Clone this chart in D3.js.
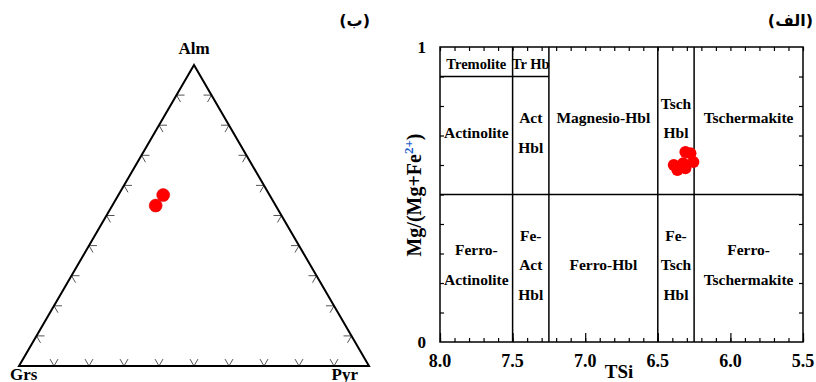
<!DOCTYPE html>
<html>
<head>
<meta charset="utf-8">
<script src="https://cdn.jsdelivr.net/npm/d3@7"></script>
<style>
  body { margin: 0; background: #fff; }
</style>
</head>
<body>
<div id="chart"></div>
<script>
// ternary garnet data (fractions)
var garnetAlm = [0.568, 0.533];
var garnetPyr = [0.128, 0.124];
var garnetGrs = [0.304, 0.343];
var cornerNames = ["Alm", "Grs", "Pyr"];

// amphibole data
var amphTSi = [6.39, 6.365, 6.31, 6.275, 6.325, 6.31, 6.255];
var amphMg  = [0.600, 0.583, 0.644, 0.640, 0.606, 0.589, 0.610];

var tsiTicks = [8.0, 7.5, 7.0, 6.5, 6.0, 5.5];
var fieldXLines = [7.5, 7.25, 6.5, 6.25];
// [text lines, TSi centre, Mg centre]
var fieldLabels = [
	[["Tremolite"], 7.75, 0.945],
	[["Tr Hb"], 7.375, 0.945],
	[["Actinolite"], 7.75, 0.71],
	[["Act", "Hbl"], 7.375, 0.71],
	[["Magnesio-Hbl"], 6.875, 0.76],
	[["Tsch", "Hbl"], 6.375, 0.76],
	[["Tschermakite"], 5.875, 0.76],
	[["Ferro-", "Actinolite"], 7.75, 0.262],
	[["Fe-", "Act", "Hbl"], 7.375, 0.262],
	[["Ferro-Hbl"], 6.875, 0.262],
	[["Fe-", "Tsch", "Hbl"], 6.375, 0.262],
	[["Ferro-", "Tschermakite"], 5.875, 0.262]
];

var serif = "'Liberation Serif', 'DejaVu Serif', serif";

var svg = d3.select("#chart").append("svg")
	.attr("width", 816)
	.attr("height", 382)
	.attr("font-family", serif)
	.attr("font-weight", "bold");

//---------- ternary (left) ----------
var tri = {left: 19, right: 369, top: 65, bottom: 366};
var triX = d3.scaleLinear().domain([0, 1]).range([tri.left, tri.right]);
var triY = d3.scaleLinear().domain([0, 1]).range([tri.bottom, tri.top]);

function ternXY(alm, pyr) {
	return [triX(pyr + alm / 2), triY(alm)];
}

var gT = svg.append("g");
var A = ternXY(1, 0), G = ternXY(0, 0), P = ternXY(0, 1);

// tick marks: small V, arms parallel to the other two sides
var armLen = 8;
var s60 = Math.sin(Math.PI / 3), c60 = 0.5;
var tickPath = "";
d3.range(1, 10).forEach(function(i) {
	var t = i / 10;
	// bottom edge
	var b = ternXY(0, t);
	tickPath += "M" + (b[0] - armLen * c60) + "," + (b[1] - armLen * s60) + "L" + b[0] + "," + b[1] +
		"L" + (b[0] + armLen * c60) + "," + (b[1] - armLen * s60);
	// left edge
	var l = ternXY(t, 0);
	tickPath += "M" + (l[0] + armLen) + "," + l[1] + "L" + l[0] + "," + l[1] +
		"L" + (l[0] + armLen * c60) + "," + (l[1] + armLen * s60);
	// right edge
	var r = ternXY(t, 1 - t);
	tickPath += "M" + (r[0] - armLen) + "," + r[1] + "L" + r[0] + "," + r[1] +
		"L" + (r[0] - armLen * c60) + "," + (r[1] + armLen * s60);
});
gT.append("path")
	.attr("d", tickPath)
	.attr("fill", "none")
	.attr("stroke", "#555")
	.attr("stroke-width", 1);

gT.append("path")
	.attr("d", "M" + A + "L" + G + "L" + P + "Z")
	.attr("fill", "none")
	.attr("stroke", "#000")
	.attr("stroke-width", 2)
	.attr("stroke-linejoin", "miter");

gT.append("text").text(cornerNames[0])
	.attr("x", A[0]).attr("y", A[1] - 11)
	.attr("text-anchor", "middle").attr("font-size", 17);
gT.append("text").text(cornerNames[1])
	.attr("x", G[0] - 9).attr("y", G[1] + 14)
	.attr("font-size", 17);
gT.append("text").text(cornerNames[2])
	.attr("x", P[0] - 11).attr("y", P[1] + 14)
	.attr("text-anchor", "end").attr("font-size", 17);

gT.selectAll(".gpt")
	.data(garnetAlm)
	.enter()
	.append("circle")
		.attr("class", "gpt")
		.attr("cx", function(d, i) { return ternXY(d, garnetPyr[i])[0]; })
		.attr("cy", function(d, i) { return ternXY(d, garnetPyr[i])[1]; })
		.attr("r", 6.5)
		.attr("fill", "#f00")
		.attr("stroke", "#d00")
		.attr("stroke-width", 0.5);

svg.append("text")
	.attr("x", 370).attr("y", 26)
	.attr("text-anchor", "end")
	.attr("font-family", "'DejaVu Sans', sans-serif")
	.attr("font-size", 16)
	.text("(ب)");

//---------- amphibole classification (right) ----------
var pl = {left: 440, right: 803, top: 47, bottom: 342};
var x = d3.scaleLinear().domain([8.0, 5.5]).range([pl.left, pl.right]);
var y = d3.scaleLinear().domain([0, 1]).range([pl.bottom, pl.top]);
var gA = svg.append("g");

var minor = d3.range(0, 26).map(function(i) { return 8.0 - i * 0.1; });
var yMinor = d3.range(1, 10).map(function(i) { return i / 10; });

var bottomAxis = d3.axisTop(x).tickValues(minor).tickSize(4).tickFormat("").tickSizeOuter(0);
var topAxis = d3.axisBottom(x).tickValues(minor).tickSize(4).tickFormat("").tickSizeOuter(0);
var rightAxis = d3.axisLeft(y).tickValues(yMinor).tickSize(4).tickFormat("").tickSizeOuter(0);
var leftAxis = d3.axisRight(y).tickValues(yMinor).tickSize(4).tickFormat("").tickSizeOuter(0);

gA.append("g").attr("transform", "translate(0," + pl.bottom + ")").call(bottomAxis);
gA.append("g").attr("transform", "translate(0," + pl.top + ")").call(topAxis);
gA.append("g").attr("transform", "translate(" + pl.right + ",0)").call(rightAxis);
gA.append("g").attr("transform", "translate(" + pl.left + ",0)").call(leftAxis);
// longer ticks at the labelled values on the bottom
gA.append("g").attr("transform", "translate(0," + pl.bottom + ")")
	.call(d3.axisTop(x).tickValues(tsiTicks).tickSize(9).tickFormat("").tickSizeOuter(0));
gA.selectAll(".domain").remove();
gA.selectAll(".tick line").attr("stroke", "#000").attr("stroke-width", 1.2);

// field boundaries
gA.selectAll(".vline")
	.data(fieldXLines)
	.enter()
	.append("line")
		.attr("x1", function(d) { return x(d); })
		.attr("x2", function(d) { return x(d); })
		.attr("y1", y(0)).attr("y2", y(1))
		.attr("stroke", "#000").attr("stroke-width", 1.5);
gA.append("line")
	.attr("x1", x(8.0)).attr("x2", x(5.5))
	.attr("y1", y(0.5)).attr("y2", y(0.5))
	.attr("stroke", "#000").attr("stroke-width", 1.5);
gA.append("line")
	.attr("x1", x(8.0)).attr("x2", x(7.25))
	.attr("y1", y(0.9)).attr("y2", y(0.9))
	.attr("stroke", "#000").attr("stroke-width", 1.5);
gA.append("rect")
	.attr("x", pl.left).attr("y", pl.top)
	.attr("width", pl.right - pl.left).attr("height", pl.bottom - pl.top)
	.attr("fill", "none").attr("stroke", "#000").attr("stroke-width", 1.5);

// field names
var lineH = 29.5;
fieldLabels.forEach(function(f, j) {
	var n = f[0].length;
	var t = gA.append("text")
		.attr("text-anchor", "middle")
		.attr("font-size", j < 2 ? 14.5 : 15.5);
	f[0].forEach(function(s, k) {
		t.append("tspan")
			.attr("x", x(f[1]))
			.attr("y", y(f[2]) + (k - (n - 1) / 2) * lineH + 5.5)
			.text(s);
	});
});

// tick labels
gA.selectAll(".xlab")
	.data(tsiTicks)
	.enter()
	.append("text")
		.attr("class", "xlab")
		.attr("x", function(d) { return x(d); })
		.attr("y", pl.bottom + 25)
		.attr("text-anchor", "middle")
		.attr("font-size", 18)
		.text(function(d) { return d.toFixed(1); });
gA.append("text").text("1").attr("x", 426).attr("y", y(1) + 6)
	.attr("text-anchor", "end").attr("font-size", 17);
gA.append("text").text("0").attr("x", 426).attr("y", y(0) + 6)
	.attr("text-anchor", "end").attr("font-size", 17);

gA.append("text").text("TSi")
	.attr("x", 619).attr("y", 378)
	.attr("text-anchor", "middle").attr("font-size", 19);

var yl = gA.append("text")
	.attr("transform", "translate(421,195) rotate(-90)")
	.attr("text-anchor", "middle")
	.attr("font-size", 20);
yl.append("tspan").text("Mg/(Mg+Fe");
yl.append("tspan").text("2+").attr("fill", "#1a5ccc").attr("font-size", 13).attr("dy", -8);
yl.append("tspan").text(")").attr("dy", 8);

// data points
gA.selectAll(".apt")
	.data(amphTSi)
	.enter()
	.append("circle")
		.attr("class", "apt")
		.attr("cx", function(d) { return x(d); })
		.attr("cy", function(d, i) { return y(amphMg[i]); })
		.attr("r", 6)
		.attr("fill", "#f00");

svg.append("text")
	.attr("x", 813).attr("y", 26)
	.attr("text-anchor", "end")
	.attr("font-family", "'DejaVu Sans', sans-serif")
	.attr("font-size", 16)
	.text("(الف)");
</script>
</body>
</html>
